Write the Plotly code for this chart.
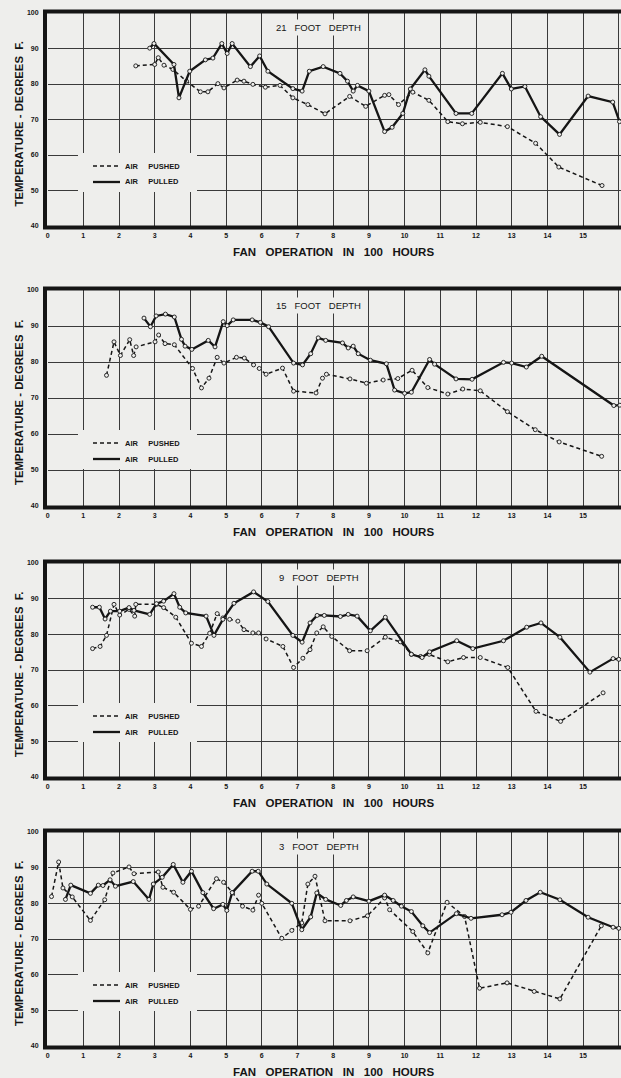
import plotly.graph_objects as go

# ---------------- data ----------------
panel_titles = ["21 FOOT DEPTH", "15 FOOT DEPTH", "9 FOOT DEPTH", "3 FOOT DEPTH"]
series_names = ["AIR PUSHED", "AIR PULLED"]
x_ticks = list(range(0, 17))
y_ticks = [40, 50, 60, 70, 80, 90, 100]

# 21 foot depth
d21_pulled_x = [2.86, 2.98, 3.54, 3.68, 3.98, 4.42, 4.63, 4.88, 5.03, 5.17, 5.68, 5.94, 6.17, 6.87, 7.13, 7.33,
                7.72, 8.19, 8.4, 8.56, 8.68, 9.0, 9.44, 9.65, 9.95, 10.16, 10.57, 10.68, 11.44, 11.88, 12.74,
                12.99, 13.37, 13.81, 14.34, 15.14, 15.83, 16.02]
d21_pulled_y = [90.1, 91.4, 85.5, 76.1, 83.6, 86.8, 87.3, 91.4, 88.6, 91.4, 84.9, 87.9, 83.6, 78.7, 78.0, 83.6,
                84.9, 83.0, 80.8, 78.0, 79.6, 78.0, 66.6, 67.8, 71.7, 78.6, 84.0, 82.2, 71.7, 71.7, 83.0,
                78.6, 79.3, 70.8, 65.8, 76.6, 74.9, 69.4]
d21_pushed_x = [2.47, 3.0, 3.1, 3.26, 3.51, 3.89, 4.28, 4.49, 4.77, 4.94, 5.31, 5.5, 5.75, 6.1, 6.51, 6.87,
                7.29, 7.77, 8.46, 8.91, 9.44, 9.56, 9.83, 10.23, 10.68, 11.21, 11.62, 12.12, 12.88, 13.67,
                14.32, 15.53]
d21_pushed_y = [85.1, 85.5, 87.4, 85.3, 84.1, 80.8, 77.8, 77.8, 80.1, 78.9, 81.1, 80.8, 79.9, 79.1, 79.6, 76.1,
                74.2, 71.6, 76.5, 73.7, 76.8, 77.0, 74.2, 77.7, 75.4, 69.4, 68.8, 69.2, 68.0, 63.3,
                56.6, 51.4]

# 15 foot depth
d15_pulled_x = [2.7, 2.88, 3.04, 3.3, 3.55, 3.75, 3.85, 4.04, 4.5, 4.69, 4.92, 5.03, 5.2, 5.73, 5.96, 6.19,
                6.89, 7.14, 7.37, 7.58, 7.79, 8.26, 8.42, 8.56, 8.7, 9.04, 9.49, 9.72, 10.0, 10.19, 10.7,
                10.84, 11.44, 11.89, 12.77, 13.0, 13.41, 13.84, 15.86, 16.03]
d15_pulled_y = [92.2, 89.8, 92.8, 93.3, 92.5, 86.3, 84.4, 83.5, 86.0, 84.2, 91.2, 90.1, 91.7, 91.7, 91.0, 89.8,
                79.7, 79.2, 82.3, 86.7, 86.0, 85.3, 83.9, 84.4, 82.3, 80.5, 79.5, 72.2, 71.3, 71.6, 80.7,
                79.4, 75.3, 75.2, 79.9, 79.7, 78.6, 81.6, 67.9, 68.0]
d15_pushed_x = [1.65, 1.86, 2.04, 2.3, 2.41, 2.48, 3.01, 3.11, 3.29, 3.55, 4.06, 4.31, 4.52, 4.75, 4.94, 5.29,
                5.51, 5.77, 5.93, 6.12, 6.58, 6.89, 7.52, 7.7, 7.81, 8.47, 8.93, 9.4, 9.81, 10.21, 10.65,
                11.21, 11.63, 12.12, 12.88, 13.66, 14.33, 15.52]
d15_pushed_y = [76.3, 85.6, 81.8, 86.2, 81.8, 84.2, 85.6, 87.5, 85.1, 84.8, 78.2, 72.8, 75.5, 81.3, 79.7, 81.3,
                81.1, 79.2, 78.2, 76.6, 78.3, 71.9, 71.4, 75.5, 76.6, 75.3, 74.1, 75.0, 75.4, 77.7, 72.9,
                71.1, 72.5, 72.0, 66.2, 61.2, 57.8, 53.8]

# 9 foot depth
d9_pulled_x = [1.26, 1.45, 1.61, 1.76, 2.02, 2.28, 2.42, 2.86, 3.05, 3.25, 3.54, 3.7, 3.87, 4.44, 4.66, 4.91,
               5.22, 5.77, 6.17, 6.87, 7.13, 7.35, 7.55, 7.75, 8.2, 8.42, 8.67, 9.04, 9.46, 10.19, 10.49,
               10.7, 11.46, 11.91, 12.77, 13.42, 13.82, 14.35, 15.19, 15.84, 16.0]
d9_pulled_y = [87.6, 87.6, 84.3, 86.5, 86.5, 87.5, 86.7, 85.6, 88.6, 89.3, 91.4, 87.6, 86.0, 85.1, 79.7, 84.2,
               88.7, 91.9, 89.2, 79.7, 77.8, 83.2, 85.3, 85.3, 85.0, 85.6, 85.1, 81.0, 84.8, 74.4, 73.5,
               75.1, 78.2, 76.0, 78.2, 82.0, 83.2, 79.2, 69.4, 73.2, 73.0]
d9_pushed_x = [1.26, 1.47, 1.65, 1.86, 2.02, 2.28, 2.44, 2.47, 3.05, 3.25, 3.59, 4.03, 4.31, 4.54, 4.75, 4.91,
               5.1, 5.33, 5.5, 5.75, 5.91, 6.12, 6.59, 6.89, 7.15, 7.35, 7.54, 7.72, 7.96, 8.46, 8.95, 9.46,
               9.88, 10.19, 10.45, 10.69, 11.21, 11.65, 12.12, 12.89, 13.68, 14.37, 15.56]
d9_pushed_y = [76.0, 76.6, 79.7, 88.4, 85.4, 87.0, 85.1, 88.4, 88.4, 87.5, 84.8, 77.5, 76.6, 80.3, 85.8, 84.6,
               84.2, 83.7, 81.3, 80.4, 80.4, 78.7, 76.6, 70.7, 73.3, 75.7, 80.4, 82.1, 79.4, 75.4, 75.4, 79.2,
               77.9, 74.4, 73.8, 74.4, 72.3, 73.5, 73.5, 70.7, 58.4, 55.6, 63.6]

# 3 foot depth
d3_pulled_x = [0.5, 0.65, 1.2, 1.42, 1.55, 1.75, 1.9, 2.4, 2.84, 2.96, 3.21, 3.52, 3.79, 4.03, 4.35, 4.65,
               4.91, 5.02, 5.17, 5.73, 5.9, 6.14, 6.84, 7.12, 7.37, 7.54, 7.79, 8.21, 8.37, 8.56, 9.0, 9.44,
               9.68, 9.91, 10.19, 10.51, 10.7, 11.45, 11.86, 12.73, 12.98, 13.4, 13.8, 14.35, 15.14, 15.84, 16.0]
d3_pulled_y = [81.1, 85.1, 82.8, 85.1, 85.0, 86.6, 84.8, 86.1, 81.1, 85.4, 87.3, 90.9, 85.9, 89.0, 83.0, 78.5,
               79.7, 78.0, 83.0, 89.0, 89.0, 85.4, 80.0, 72.6, 76.2, 82.9, 81.1, 79.4, 80.8, 81.8, 80.6, 82.3,
               80.8, 79.2, 77.7, 73.7, 71.8, 77.1, 75.8, 76.8, 77.5, 80.8, 83.1, 81.0, 76.1, 73.3, 73.0]
d3_pushed_x = [0.11, 0.31, 0.43, 0.69, 1.2, 1.6, 1.83, 2.28, 2.42, 3.1, 3.23, 3.53, 4.0, 4.23, 4.73, 4.93,
               5.18, 5.46, 5.75, 5.91, 6.0, 6.56, 6.84, 7.12, 7.29, 7.49, 7.77, 8.47, 8.96, 9.44, 9.58,
               10.23, 10.65, 11.19, 11.68, 12.1, 12.87, 13.63, 14.35, 15.51]
d3_pushed_y = [81.9, 91.6, 84.3, 81.8, 75.2, 81.0, 88.5, 90.2, 88.3, 88.8, 84.5, 83.1, 78.3, 79.2, 86.9, 85.9,
               83.0, 79.2, 78.1, 82.3, 80.0, 70.2, 72.4, 74.5, 85.4, 87.6, 75.1, 75.1, 76.5, 81.5, 78.2,
               72.1, 66.1, 80.3, 76.3, 56.2, 57.7, 55.3, 53.2, 73.7]

pushed_x = [d21_pushed_x, d15_pushed_x, d9_pushed_x, d3_pushed_x]
pushed_y = [d21_pushed_y, d15_pushed_y, d9_pushed_y, d3_pushed_y]
pulled_x = [d21_pulled_x, d15_pulled_x, d9_pulled_x, d3_pulled_x]
pulled_y = [d21_pulled_y, d15_pulled_y, d9_pulled_y, d3_pulled_y]

# ---------------- layout constants ----------------
W, H = 621, 1078
BG = "#eeeeec"
INK = "#151515"
GRID = "#3a3a3a"
FONT = "Liberation Sans"
X0_PX = 47.6            # pixel of x = 0
UNIT_PX = 35.7          # pixels per 100 hours
TOPS = [13, 290, 563, 832]      # pixel row of 100 F
BOTS = [226, 506, 777, 1046]    # pixel row of 40 F


def px(p):
    return p / W


def py(p):
    return 1 - p / H


fig = go.Figure()
layout = dict(
    width=W, height=H, template="none",
    paper_bgcolor=BG, plot_bgcolor=BG,
    margin=dict(l=0, r=0, t=0, b=0),
    showlegend=False,
)
shapes, annotations = [], []
nb = "\u00a0"

for i in range(4):
    s = "" if i == 0 else str(i + 1)
    top, bot = TOPS[i], BOTS[i]
    pw = W - X0_PX
    layout[f"xaxis{s}"] = dict(
        domain=[px(X0_PX), 1], range=[0, pw / UNIT_PX], anchor=f"y{s}",
        tickmode="array", tickvals=x_ticks, ticktext=[str(v) for v in x_ticks],
        showgrid=True, gridcolor=GRID, gridwidth=1, zeroline=False, showline=False,
        ticks="", ticklabelstandoff=4, automargin=False, fixedrange=True,
        tickfont=dict(family=FONT, size=7, color=INK, weight="bold"),
    )
    layout[f"yaxis{s}"] = dict(
        domain=[py(bot), py(top)], range=[40, 100], anchor=f"x{s}",
        tickmode="array", tickvals=y_ticks, ticktext=[str(v) for v in y_ticks],
        showgrid=True, gridcolor=GRID, gridwidth=1, zeroline=False, showline=False,
        ticks="", ticklabelstandoff=8, automargin=False, fixedrange=True,
        tickfont=dict(family=FONT, size=7, color=INK, weight="bold"),
    )

    # data traces
    fig.add_trace(go.Scatter(
        x=pushed_x[i], y=pushed_y[i], mode="lines+markers", name=series_names[0],
        xaxis=f"x{s}", yaxis=f"y{s}",
        line=dict(color=INK, width=1.5, dash="4px,3px"),
        marker=dict(symbol="circle", size=4, color=BG, line=dict(color=INK, width=0.9)),
    ))
    fig.add_trace(go.Scatter(
        x=pulled_x[i], y=pulled_y[i], mode="lines+markers", name=series_names[1],
        xaxis=f"x{s}", yaxis=f"y{s}",
        line=dict(color=INK, width=2.3),
        marker=dict(symbol="circle", size=4, color=BG, line=dict(color=INK, width=0.9)),
    ))

    # legend block (gridlines blanked under it), in paper coordinates
    shapes.append(dict(type="rect", xref="paper", yref="paper",
                       x0=px(78), x1=px(197), y0=py(top + 179), y1=py(top + 140),
                       fillcolor=BG, line=dict(width=0), layer="above"))
    shapes.append(dict(type="line", xref="paper", yref="paper",
                       x0=px(93), x1=px(120), y0=py(top + 153), y1=py(top + 153),
                       line=dict(color=INK, width=1.5, dash="4px,3px"), layer="above"))
    shapes.append(dict(type="line", xref="paper", yref="paper",
                       x0=px(93), x1=px(120), y0=py(top + 169), y1=py(top + 169),
                       line=dict(color=INK, width=2.3), layer="above"))
    for k, yy in enumerate([top + 153, top + 169]):
        a, b = series_names[k].split(" ")
        annotations.append(dict(
            xref="paper", yref="paper", x=px(123), y=py(yy),
            xanchor="left", yanchor="middle", showarrow=False,
            text=a + nb * 5 + b,
            font=dict(family=FONT, size=7.5, color=INK, weight="bold"),
        ))

    # heavy frame
    shapes.append(dict(type="rect", xref="paper", yref="paper",
                       x0=px(45), x1=px(W + 6), y0=py(bot + 1.5), y1=py(top - 1.5),
                       line=dict(color=INK, width=4), layer="above"))

    # panel title
    annotations.append(dict(
        xref=f"x{s}", yref=f"y{s}", x=7.6, y=95.8, showarrow=False,
        text=panel_titles[i].replace(" ", nb * 3), bgcolor=BG, borderpad=2,
        font=dict(family=FONT, size=9.5, color=INK),
    ))

    # axis titles
    annotations.append(dict(
        xref="paper", yref="paper", x=px(19), y=py((top + bot) / 2 + 4),
        textangle=-90, showarrow=False, xanchor="center", yanchor="middle",
        text="TEMPERATURE - DEGREES" + nb * 2 + "F.",
        font=dict(family=FONT, size=11.3, color=INK, weight="bold"),
    ))
    annotations.append(dict(
        xref="paper", yref="paper", x=px(333), y=py(bot + 26),
        showarrow=False, xanchor="center", yanchor="middle",
        text=(nb * 3).join(["FAN", "OPERATION", "IN", "100", "HOURS"]),
        font=dict(family=FONT, size=11.5, color=INK, weight="bold"),
    ))

layout["shapes"] = shapes
layout["annotations"] = annotations
fig.update_layout(**layout)
fig.write_html("out.html",
               config={"displayModeBar": False},
               post_script="document.body.style.margin='0';document.body.style.padding='0';")
